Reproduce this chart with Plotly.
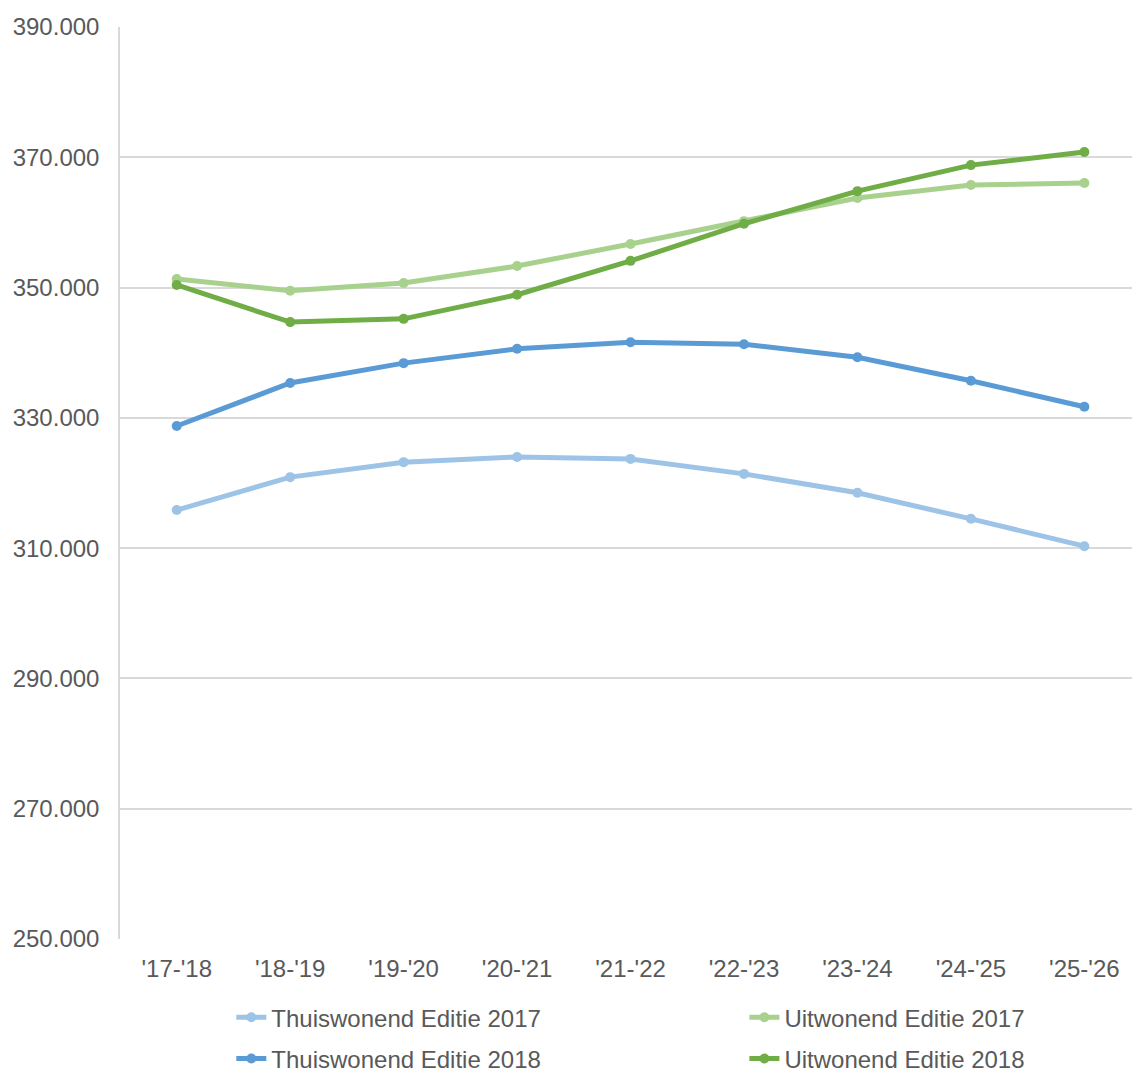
import plotly.graph_objects as go

# Data
years = ["'17-'18", "'18-'19", "'19-'20", "'20-'21", "'21-'22",
         "'22-'23", "'23-'24", "'24-'25", "'25-'26"]

thuis_2017 = [315850, 320900, 323200, 324000, 323700, 321400, 318500, 314500, 310300]
uit_2017 = [351300, 349500, 350700, 353300, 356700, 360200, 363750, 365750, 366050]
thuis_2018 = [328750, 335350, 338400, 340600, 341600, 341300, 339300, 335700, 331700]
uit_2018 = [350400, 344700, 345200, 348900, 354100, 359800, 364800, 368800, 370800]

# name, values, colour, which legend column
series = [
    ('Thuiswonend Editie 2017', thuis_2017, '#9dc3e6', 'legend'),
    ('Uitwonend Editie 2017', uit_2017, '#a9d18e', 'legend2'),
    ('Thuiswonend Editie 2018', thuis_2018, '#5b9bd5', 'legend'),
    ('Uitwonend Editie 2018', uit_2018, '#70ad47', 'legend2'),
]

fig = go.Figure()

for name, vals, color, leg in series:
    fig.add_trace(go.Scatter(
        x=years, y=vals, name=name, mode='lines+markers',
        line=dict(color=color, width=5),
        marker=dict(color=color, size=10),
        legend=leg, legendgroup=name
    ))

legend_style = dict(
    orientation='v', yanchor='top', xanchor='left',
    font=dict(size=24, color='#595959'),
    tracegroupgap=7, bgcolor='rgba(0,0,0,0)'
)

fig.update_layout(
    width=1132, height=1072,
    margin=dict(l=120, r=0, t=27, b=133, autoexpand=False),
    plot_bgcolor='white', paper_bgcolor='white',
    separators=',.',
    font=dict(family='Liberation Sans, Arial, sans-serif', size=24, color='#595959'),
    xaxis=dict(
        range=[-0.5, 8.42],
        showgrid=False, showline=False, ticks='',
        ticklabelstandoff=13,
        tickfont=dict(size=24, color='#595959')
    ),
    yaxis=dict(
        range=[250000, 390000], tick0=250000, dtick=20000, tickformat=',.0f',
        showgrid=True, gridcolor='#d9d9d9', gridwidth=1.5,
        showline=True, linecolor='#d9d9d9', linewidth=1.5,
        zeroline=False, ticks='', ticklabelstandoff=14,
        tickfont=dict(size=24, color='#595959')
    ),
    legend=dict(x=0.110, y=-0.0616, **legend_style),
    legend2=dict(x=0.617, y=-0.0616, **legend_style),
    showlegend=True
)

fig.write_html("out.html", config={'displayModeBar': False},
               post_script="document.body.style.margin='0';")
